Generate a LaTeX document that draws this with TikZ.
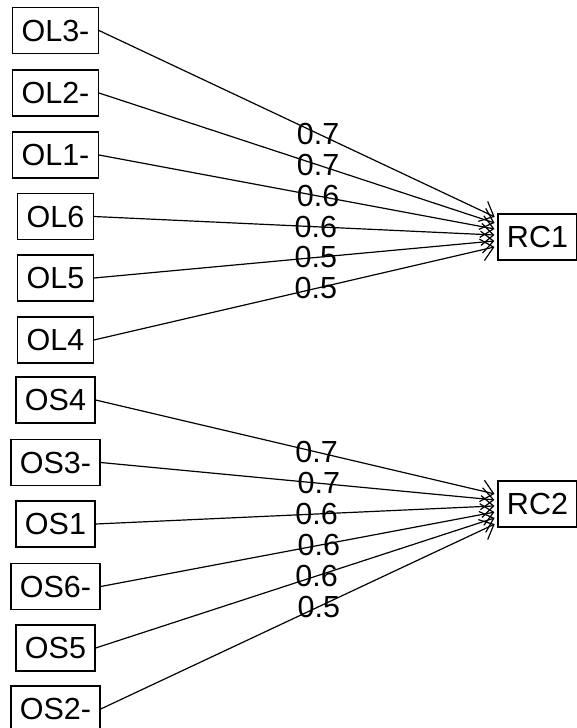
\documentclass[tikz,border=0pt]{standalone}
\usepackage{fontspec}
\setmainfont{Liberation Sans}
\usetikzlibrary{arrows.meta}
\begin{document}
\begin{tikzpicture}[x=1pt, y=-1pt, line width=1.2pt,
    every node/.append style={font=\fontsize{30.5}{36}\selectfont},
    item/.style={draw, minimum height=46pt, inner xsep=9pt, inner ysep=0pt},
    loading/.style={inner sep=0pt, pos=0.55}]
    \useasboundingbox (0,0) rectangle (576,728);
    \node[item] (ol3_name) at (55.5,30.5) {OL3-};
    \node[item] (ol2_name) at (55.5,93) {OL2-};
    \node[item] (ol1_name) at (55.5,155) {OL1-};
    \node[item] (ol6_name) at (55.5,216.5) {OL6};
    \node[item] (ol5_name) at (55.5,278) {OL5};
    \node[item] (ol4_name) at (55.5,340) {OL4};
    \node[item] (os4_name) at (55.5,400) {OS4};
    \node[item] (os3_name) at (55.5,462.5) {OS3-};
    \node[item] (os1_name) at (55.5,524) {OS1};
    \node[item] (os6_name) at (55.5,586.5) {OS6-};
    \node[item] (os5_name) at (55.5,648) {OS5};
    \node[item] (os2_name) at (55.5,709) {OS2-};
    \node[item] (rc1_name) at (537.5,237) {RC1};
    \node[item] (rc2_name) at (537.5,504) {RC2};

    \path[-{Straight Barb[length=12pt,width=22pt]}, shorten >=3pt]
        (ol3_name.east) edge node[loading] {0.7} (rc1_name)
        (ol2_name.east) edge node[loading] {0.7} (rc1_name)
        (ol1_name.east) edge node[loading] {0.6} (rc1_name)
        (ol6_name.east) edge node[loading] {0.6} (rc1_name)
        (ol5_name.east) edge node[loading] {0.5} (rc1_name)
        (ol4_name.east) edge node[loading] {0.5} (rc1_name)
        (os4_name.east) edge node[loading] {0.7} (rc2_name)
        (os3_name.east) edge node[loading] {0.7} (rc2_name)
        (os1_name.east) edge node[loading] {0.6} (rc2_name)
        (os6_name.east) edge node[loading] {0.6} (rc2_name)
        (os5_name.east) edge node[loading] {0.6} (rc2_name)
        (os2_name.east) edge node[loading] {0.5} (rc2_name);
\end{tikzpicture}
\end{document}
